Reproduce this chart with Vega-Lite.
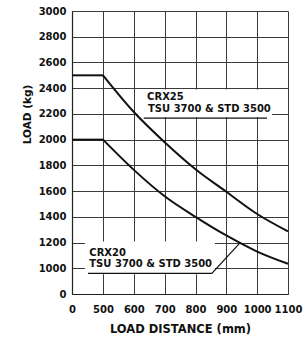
{
  "$schema": "https://vega.github.io/schema/vega-lite/v6.json",
  "width": 216,
  "height": 283,
  "autosize": "none",
  "padding": {"left": 72, "top": 11, "right": 20, "bottom": 46},
  "background": "white",
  "config": {
    "view": {"stroke": null},
    "font": "DejaVu Sans",
    "axis": {
      "labelFont": "DejaVu Sans", "labelFontWeight": "bold", "labelFontSize": 10, "labelColor": "#111",
      "titleFont": "DejaVu Sans", "titleFontWeight": "bold", "titleFontSize": 10.5, "titleColor": "#111",
      "ticks": false, "grid": true, "gridColor": "#3a3a3a", "gridWidth": 1, "gridOpacity": 1,
      "domainColor": "#222", "domainWidth": 1.2
    }
  },
  "encoding": {
    "x": {"field": "d", "type": "quantitative",
          "scale": {"domain": [0, 500, 1100], "range": [0, 31, 216], "nice": false, "zero": false},
          "axis": {"values": [0, 500, 600, 700, 800, 900, 1000, 1100], "format": "d", "title": "LOAD DISTANCE (mm)", "titleFontSize": 11.5, "labelPadding": 10, "titlePadding": 9, "labelFlush": false, "labelOverlap": false}},
    "y": {"field": "load", "type": "quantitative",
          "scale": {"domain": [0, 1000, 3000], "range": [283, 257.3, 0], "nice": false, "zero": false},
          "axis": {"values": [0, 1000, 1200, 1400, 1600, 1800, 2000, 2200, 2400, 2600, 2800, 3000], "format": "d", "title": "LOAD (kg)", "titleY": 103, "labelPadding": 6, "titlePadding": 6, "labelFlush": false, "labelOverlap": false}}
  },
  "layer": [
    {
      "data": {"values": [
        {"box": "CRX25", "d": 613, "d2": 1048, "load": 2176, "load2": 2390},
        {"box": "CRX20", "d": 210, "d2": 863, "load": 767, "load2": 1208}
      ]},
      "mark": {"type": "rect", "color": "white"},
      "encoding": {
        "x2": {"field": "d2"},
        "y2": {"field": "load2"}
      }
    },
    {
      "data": {"values": [
        {"leader": "CRX25", "d": 632, "load": 2168},
        {"leader": "CRX25", "d": 1032, "load": 2168},
        {"leader": "CRX20", "d": 258, "load": 806},
        {"leader": "CRX20", "d": 853, "load": 806},
        {"leader": "CRX20", "d": 945, "load": 1200}
      ]},
      "mark": {"type": "line", "color": "#111", "strokeWidth": 1.2},
      "encoding": {
        "detail": {"field": "leader"}
      }
    },
    {
      "data": {"values": [
        {"seg": "CRX25 flat", "d": 0, "load": 2500},
        {"seg": "CRX25 flat", "d": 500, "load": 2500},
        {"seg": "CRX25 curve", "d": 500, "load": 2500},
        {"seg": "CRX25 curve", "d": 600, "load": 2215},
        {"seg": "CRX25 curve", "d": 700, "load": 1980},
        {"seg": "CRX25 curve", "d": 800, "load": 1770},
        {"seg": "CRX25 curve", "d": 900, "load": 1595},
        {"seg": "CRX25 curve", "d": 1000, "load": 1422},
        {"seg": "CRX25 curve", "d": 1100, "load": 1287},
        {"seg": "CRX20 flat", "d": 0, "load": 2000},
        {"seg": "CRX20 flat", "d": 500, "load": 2000},
        {"seg": "CRX20 curve", "d": 500, "load": 2000},
        {"seg": "CRX20 curve", "d": 600, "load": 1765},
        {"seg": "CRX20 curve", "d": 700, "load": 1560},
        {"seg": "CRX20 curve", "d": 800, "load": 1400},
        {"seg": "CRX20 curve", "d": 900, "load": 1255},
        {"seg": "CRX20 curve", "d": 1000, "load": 1130},
        {"seg": "CRX20 curve", "d": 1100, "load": 1035}
      ]},
      "mark": {"type": "line", "color": "#111", "strokeWidth": 2, "interpolate": "monotone"},
      "encoding": {
        "detail": {"field": "seg"}
      }
    },
    {
      "data": {"values": [
        {"label": "CRX25", "d": 643, "load": 2331},
        {"label": "TSU 3700 & STD 3500", "d": 646, "load": 2236},
        {"label": "CRX20", "d": 279, "load": 1122},
        {"label": "TSU 3700 & STD 3500", "d": 279, "load": 1030}
      ]},
      "mark": {"type": "text", "align": "left", "baseline": "middle", "font": "DejaVu Sans", "fontWeight": "bold", "fontSize": 10, "color": "#111"},
      "encoding": {
        "text": {"field": "label"}
      }
    }
  ]
}
